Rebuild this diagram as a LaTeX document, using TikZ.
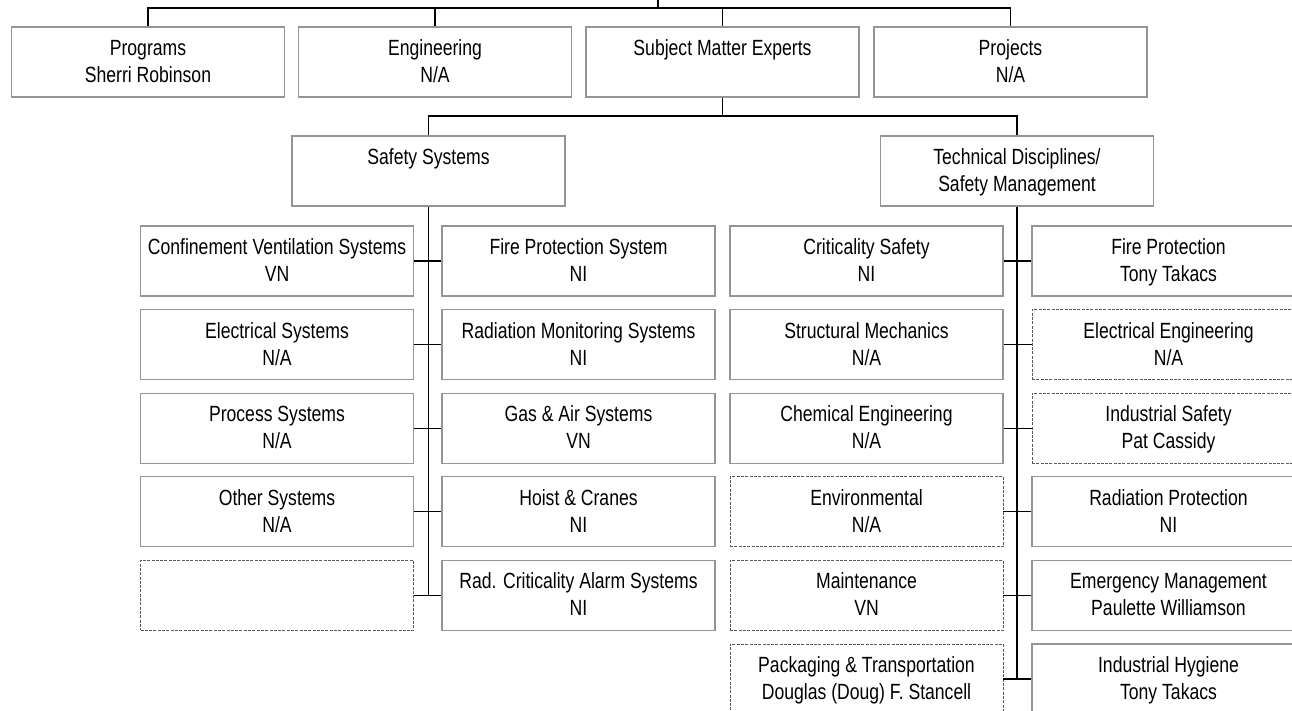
\documentclass[tikz,border=0pt]{standalone}
\usepackage{fontspec}
\setmainfont[FakeStretch=0.8]{Liberation Sans}
\definecolor{boxgray}{gray}{0.58}
\definecolor{dashgray}{gray}{0.35}
\newcommand\tl[2]{\rule{0pt}{22pt}#1\\\strut#2}
\begin{document}
\begin{tikzpicture}[x=1pt,y=-1pt,
  box/.style={draw=boxgray, line width=1.1pt, minimum width=273pt, minimum height=70pt,
    inner sep=0pt, align=center, font=\fontsize{22}{27}\selectfont, text=black},
  dbox/.style={box, draw=dashgray, line width=0.7pt, dash pattern=on 3pt off 1.3pt},
  conn/.style={draw=black, line width=1.3pt}]
\useasboundingbox (0,0) rectangle (1292,711);
\clip (0,0) rectangle (1292,711);
% top level
\node[box] (prog) at (148,62) {\tl{Programs}{Sherri Robinson}};
\node[box] (eng) at (435,62) {\tl{Engineering}{N/A}};
\node[box] (sme) at (722.5,62) {\tl{Subject Matter Experts}{}};
\node[box] (proj) at (1010.5,62) {\tl{Projects}{N/A}};
\coordinate (top) at (658,0);
\coordinate (bar) at (658,8);
\draw[conn] (top) -- (bar);
\draw[conn] (prog.north) -- (prog.north |- bar) -- (proj.north |- bar) -- (proj.north);
\draw[conn] (eng.north) -- (eng.north |- bar);
\draw[conn] (sme.north) -- (sme.north |- bar);
% second level
\node[box] (ss) at (428.5,171) {\tl{Safety Systems}{}};
\node[box] (td) at (1017,171) {\tl{Technical Disciplines/}{Safety Management}};
\coordinate (bar2) at (723,116);
\draw[conn] (sme.south) -- (sme.south |- bar2);
\draw[conn] (ss.north) -- (ss.north |- bar2) -- (td.north |- bar2) -- (td.north);
% safety systems columns
\node[box] (sl1) at (277,261) {\tl{Confinement Ventilation Systems}{VN}};
\node[box] (sr1) at (578.5,261) {\tl{Fire Protection System}{NI}};
\node[box] (sl2) at (277,344.6) {\tl{Electrical Systems}{N/A}};
\node[box] (sr2) at (578.5,344.6) {\tl{Radiation Monitoring Systems}{NI}};
\node[box] (sl3) at (277,428.2) {\tl{Process Systems}{N/A}};
\node[box] (sr3) at (578.5,428.2) {\tl{Gas \& Air Systems}{VN}};
\node[box] (sl4) at (277,511.8) {\tl{Other Systems}{N/A}};
\node[box] (sr4) at (578.5,511.8) {\tl{Hoist \& Cranes}{NI}};
\node[dbox] (sl5) at (277,595.4) {};
\node[box] (sr5) at (578.5,595.4) {\tl{Rad. Criticality Alarm Systems}{NI}};
\draw[conn] (ss.south) -- (ss.south |- sr5.west);
\foreach \i in {1,...,5} {\draw[conn] (sl\i.east) -- (sr\i.west);}
% technical disciplines columns
\node[box] (tl1) at (866.5,261) {\tl{Criticality Safety}{NI}};
\node[box] (tr1) at (1168.5,261) {\tl{Fire Protection}{Tony Takacs}};
\node[box] (tl2) at (866.5,344.6) {\tl{Structural Mechanics}{N/A}};
\node[dbox] (tr2) at (1168.5,344.6) {\tl{Electrical Engineering}{N/A}};
\node[box] (tl3) at (866.5,428.2) {\tl{Chemical Engineering}{N/A}};
\node[dbox] (tr3) at (1168.5,428.2) {\tl{Industrial Safety}{Pat Cassidy}};
\node[dbox] (tl4) at (866.5,511.8) {\tl{Environmental}{N/A}};
\node[box] (tr4) at (1168.5,511.8) {\tl{Radiation Protection}{NI}};
\node[dbox] (tl5) at (866.5,595.4) {\tl{Maintenance}{VN}};
\node[box] (tr5) at (1168.5,595.4) {\tl{Emergency Management}{Paulette Williamson}};
\node[dbox] (tl6) at (866.5,679) {\tl{Packaging \& Transportation}{Douglas (Doug) F. Stancell}};
\node[box] (tr6) at (1168.5,679) {\tl{Industrial Hygiene}{Tony Takacs}};
\draw[conn] (td.south) -- (td.south |- tr6.west);
\foreach \i in {1,...,6} {\draw[conn] (tl\i.east) -- (tr\i.west);}
\end{tikzpicture}
\end{document}
